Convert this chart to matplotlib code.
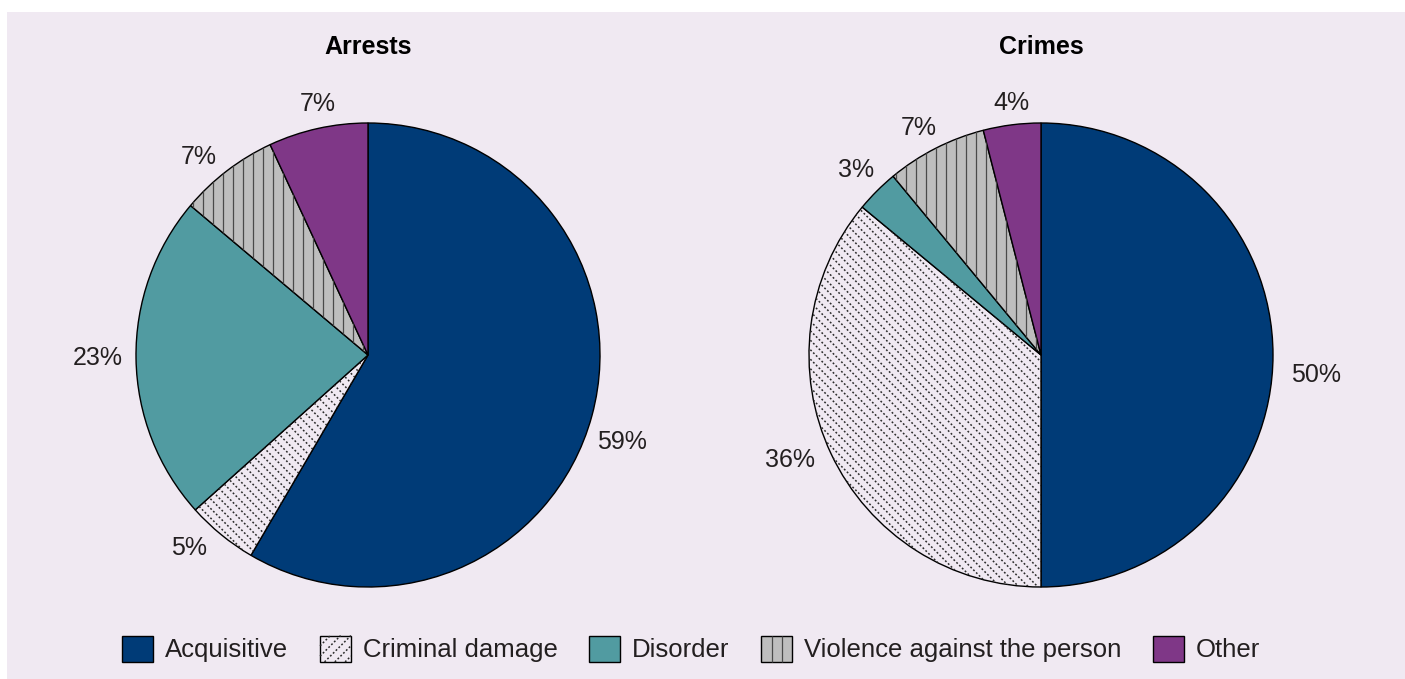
import numpy as np
import matplotlib
matplotlib.use('Agg')
import matplotlib.pyplot as plt
from matplotlib.patches import Rectangle, Patch
from matplotlib.collections import LineCollection
from matplotlib.legend_handler import HandlerPatch

# ---- data ----
categories = ['Acquisitive', 'Criminal damage', 'Disorder',
              'Violence against the person', 'Other']
arrests = [59, 5, 23, 7, 7]
crimes = [50, 36, 3, 7, 4]
titles = ['Arrests', 'Crimes']

# ---- style ----
BG = '#f0e9f2'
TXT = '#231f20'
colors = ['#003b77', BG, '#519ba1', '#bebebe', '#7f3787']
hatch_kind = [None, 'dots', None, 'vert', None]
FONT = ['Liberation Sans', 'DejaVu Sans']
plt.rcParams['font.family'] = FONT

W, H = 1405, 679
fig = plt.figure(figsize=(W / 100, H / 100), dpi=100)
fig.patch.set_facecolor('white')
fig.patches.append(Rectangle((7 / W, 0), 1, 1 - 12 / H, transform=fig.transFigure,
                             facecolor=BG, edgecolor='none', zorder=-10))

R = 232  # pie radius in px
centers = [(368, 355), (1041, 355)]
DOTS = (0, (1.2, 1.4))


def add_hatch(ax, wedge, kind, px):
    """Decorative hatch lines clipped to the wedge; px = data units per pixel."""
    segs = []
    if kind == 'dots':
        step = 9.5 * px
        for c in np.arange(-2.2, 2.2, step):
            segs.append([(-1.2, c + 1.2), (1.2, c - 1.2)])
        lc = LineCollection(segs, colors='#2a2a2a', linewidths=1.1,
                            linestyles=[DOTS])
    else:
        step = 10 * px
        for c in np.arange(-1.1, 1.1, step):
            segs.append([(c, -1.1), (c, 1.1)])
        lc = LineCollection(segs, colors='#4a4a4a', linewidths=0.9)
    ax.add_collection(lc)
    lc.set_clip_path(wedge)


# label placement: (radial distance, angle tweak in degrees)
label_place = [[(1.157, -3.8), (1.135, -3.7), (1.164, -0.3), (1.122, 3.1), (1.103, -1.2)],
               [(1.188, -4.2), (1.173, -2.5), (1.128, 0.0), (1.111, 1.3), (1.094, -0.4)]]

for i, (vals, title) in enumerate(zip([arrests, crimes], titles)):
    cx, cy = centers[i]
    ax = fig.add_axes([(cx - R) / W, (H - cy - R) / H, 2 * R / W, 2 * R / H])
    ax.axis('off')
    wedges, _ = ax.pie(vals, colors=colors, startangle=90, counterclock=False,
                       radius=1, frame=False,
                       wedgeprops=dict(edgecolor='black', linewidth=1.0))
    ax.set_xlim(-1, 1)
    ax.set_ylim(-1, 1)
    ax.set_aspect('auto')
    for k, w in enumerate(wedges):
        if hatch_kind[k]:
            add_hatch(ax, w, hatch_kind[k], 1 / R)
        d, dtheta = label_place[i][k]
        ang = np.deg2rad((w.theta1 + w.theta2) / 2 + dtheta)
        ax.text(d * np.cos(ang), d * np.sin(ang), f'{vals[k]}%',
                ha='center', va='center', fontsize=18, color=TXT)
    fig.text(cx / W, (H - 47) / H, title, ha='center', va='center',
             fontsize=18, fontweight='bold', color='black')


class HatchHandler(HandlerPatch):
    def __init__(self, kind):
        super().__init__()
        self.kind = kind

    def create_artists(self, legend, orig_handle, xdescent, ydescent,
                       width, height, fontsize, trans):
        x0, y0 = -xdescent, -ydescent
        rect = Rectangle((x0, y0), width, height,
                         facecolor=orig_handle.get_facecolor(),
                         edgecolor='black', linewidth=1.0, transform=trans)
        segs = []
        if self.kind == 'vert':
            for f in (1 / 3, 2 / 3):
                segs.append([(x0 + f * width, y0), (x0 + f * width, y0 + height)])
            lc = LineCollection(segs, colors='#4a4a4a', linewidths=0.9,
                                transform=trans)
        else:
            step = width / 3
            for c in np.arange(step, width + height, step):
                xa = max(0, c - height)
                xb = min(width, c)
                segs.append([(x0 + xa, y0 + height - (c - xa)),
                             (x0 + xb, y0 + height - (c - xb))])
            lc = LineCollection(segs, colors='#2a2a2a', linewidths=1.1,
                                linestyles=[DOTS], transform=trans)
        return [rect, lc]


handles = [Patch(facecolor=c, edgecolor='black', linewidth=1.0) for c in colors]
hmap = {handles[1]: HatchHandler('dots'), handles[3]: HatchHandler('vert')}
fig.legend(handles, categories, loc='center', bbox_to_anchor=(0.492, 30 / H),
           ncol=5, frameon=False, fontsize=18.5, handlelength=1.2,
           handleheight=1.2, handletextpad=0.46, columnspacing=1.24,
           handler_map=hmap, labelcolor=TXT)

fig.savefig('out.png', dpi=100, facecolor=fig.get_facecolor())
